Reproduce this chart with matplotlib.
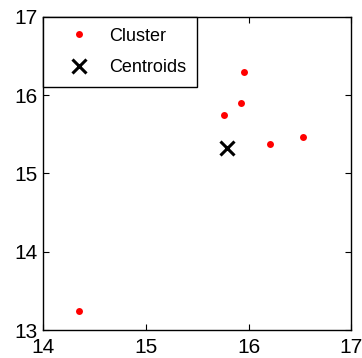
import matplotlib
matplotlib.use("Agg")
import matplotlib.pyplot as plt
import numpy as np

# cluster points and centroid
cluster_x = [14.35, 15.96, 15.93, 15.76, 16.21, 16.53]
cluster_y = [13.24, 16.29, 15.90, 15.74, 15.37, 15.47]
centroid_x = [15.79]
centroid_y = [15.33]
xticks = [14, 15, 16, 17]
yticks = [13, 14, 15, 16, 17]

plt.rcParams['font.family'] = ['Liberation Sans', 'DejaVu Sans']

fig = plt.figure(figsize=(3.62, 3.58), dpi=100)
ax = fig.add_axes([0.120, 0.078, 0.850, 0.875])

ax.plot(cluster_x, cluster_y, 'o', color='red', markersize=5, markeredgewidth=0, label='Cluster')
ax.plot(centroid_x, centroid_y, 'x', color='black', markersize=10, markeredgewidth=2.2, label='Centroids')

ax.set_xlim(14, 17)
ax.set_ylim(13, 17)
ax.set_xticks(xticks)
ax.set_yticks(yticks)
ax.tick_params(direction='in', top=True, right=True, labelsize=15, length=4)
ax.tick_params(axis='x', pad=6)
ax.tick_params(axis='y', pad=4)
for s in ax.spines.values():
    s.set_linewidth(1.0)

leg = ax.legend(loc='upper left', borderaxespad=0, fontsize=13, fancybox=False,
                framealpha=1, edgecolor='black', handletextpad=0.29, borderpad=0.6,
                labelspacing=0.8, handlelength=2.75)
leg.get_frame().set_linewidth(1.0)

fig.savefig("out.png", dpi=100)
